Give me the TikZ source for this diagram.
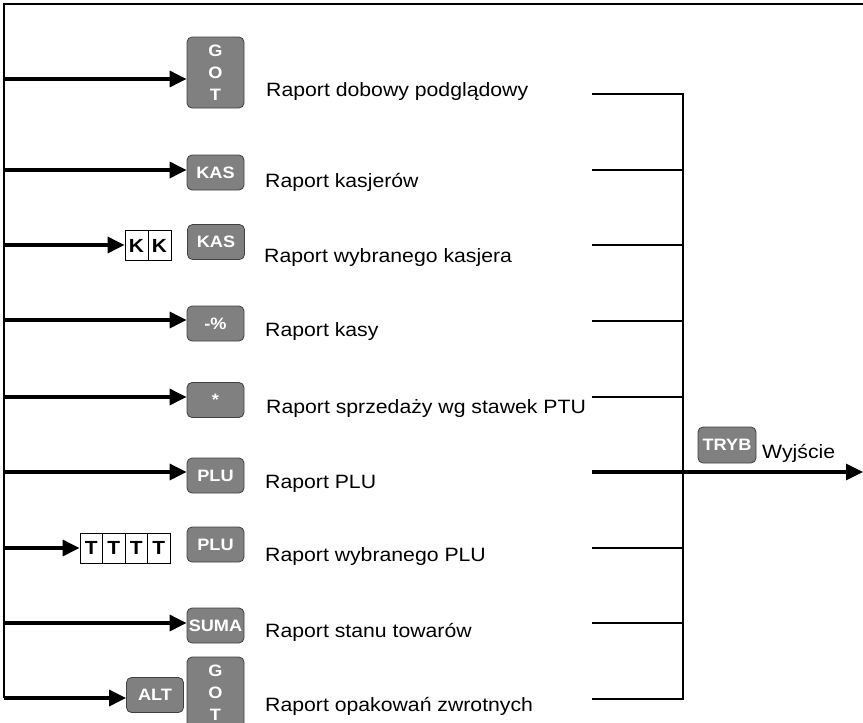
\documentclass[tikz,border=0pt]{standalone}
\usepackage{fontspec}
\setmainfont{Liberation Sans}[FakeStretch=1.1]
\usetikzlibrary{arrows.meta,positioning}
\begin{document}
\begin{tikzpicture}[x=1pt,y=-1pt,
  key/.style={draw=black!75,fill=black!50,rounded corners=5pt,text=white,font=\fontsize{16.5}{18}\selectfont\bfseries,minimum width=57pt,minimum height=35pt,inner sep=0pt,line width=0.8pt},
  tallkey/.style={key,minimum height=71pt,align=center,font=\fontsize{16.5}{22}\selectfont\bfseries},
  cell/.style={draw,line width=0.8pt,font=\fontsize{19}{19}\selectfont\bfseries,minimum width=22.5pt,minimum height=30pt,inner sep=0pt},
  lbl/.style={anchor=base west,inner sep=0pt,font=\fontsize{19.3}{19}\selectfont},
  feed/.style={line width=3.2pt,-{Triangle[length=17pt,width=16pt]}},
  tie/.style={line width=1.6pt}]
\useasboundingbox (0,0) rectangle (863,723);
\node[tallkey] (g1) at (215.5,72.5) {G\\O\\T}; \node[key] (k2) at (215.5,172.5) {KAS}; \node[key] (k3) at (216,242) {KAS}; \node[key] (k4) at (215.5,323.5) {-\%}; \node[key] (k5) at (215.5,400) {*};
\node[key] (k6) at (215.5,475.5) {PLU}; \node[key] (k7) at (215.5,544.5) {PLU}; \node[key] (k8) at (215.5,625.5) {SUMA}; \node[tallkey] (g9) at (215.5,692.5) {G\\O\\T}; \node[key] (alt) at (155,695) {ALT};
\node[cell,minimum width=23pt] (kk1) at (136.5,245.5) {K}; \node[cell,minimum width=23pt,right=-0.8pt of kk1] (kk2) {K};
\node[cell] (t1) at (91.25,548) {T}; \foreach \i [count=\j from 2] in {1,2,3} \node[cell,right=-0.8pt of t\i] (t\j) {T};
\node[lbl] (n1) at (266,96) {Raport dobowy podglądowy}; \node[lbl] (n2) at (265,187) {Raport kasjerów}; \node[lbl] (n3) at (264,262) {Raport wybranego kasjera};
\node[lbl] (n4) at (265,336) {Raport kasy}; \node[lbl] (n5) at (266,413) {Raport sprzedaży wg stawek PTU}; \node[lbl] (n6) at (265,488) {Raport PLU};
\node[lbl] (n7) at (265,561) {Raport wybranego PLU}; \node[lbl] (n8) at (265,637) {Raport stanu towarów}; \node[lbl] (n9) at (265,711) {Raport opakowań zwrotnych};
\node[key,minimum width=58pt,minimum height=36pt] (tryb) at (727,445) {TRYB}; \node[lbl] (wy) at (762,458) {Wyjście};
\foreach \i/\y in {1/79,2/170,3/245,4/320,5/397,6/472,7/548,8/623,9/698} \coordinate (l\i) at (4,\y);
\foreach \i/\y in {1/94,2/170,3/245,4/321,5/397,6/472,7/548,8/623,9/699} \coordinate (r\i) at (592,\y);
\coordinate (tl) at (4,4); \coordinate (tr) at (863,4); \coordinate (bt) at (683,94); \coordinate (bb) at (683,699); \coordinate (ex) at (863,472);
\draw[tie] (tr) -- (tl) -- (l9); \draw[feed] (l9) -- (l9 -| alt.west);
\draw[feed] (l1) -- (l1 -| g1.west); \draw[feed] (l2) -- (l2 -| k2.west); \draw[feed] (l3) -- (l3 -| kk1.west); \draw[feed] (l4) -- (l4 -| k4.west);
\draw[feed] (l5) -- (l5 -| k5.west); \draw[feed] (l6) -- (l6 -| k6.west); \draw[feed] (l7) -- (l7 -| t1.west); \draw[feed] (l8) -- (l8 -| k8.west);
\draw[tie] (r1) -- (bt) -- (bb) -- (r9); \foreach \i in {2,3,4,5,7,8} \draw[tie] (r\i) -- (r\i -| bt);
\draw[feed] (r6) -- (ex);
\end{tikzpicture}
\end{document}
